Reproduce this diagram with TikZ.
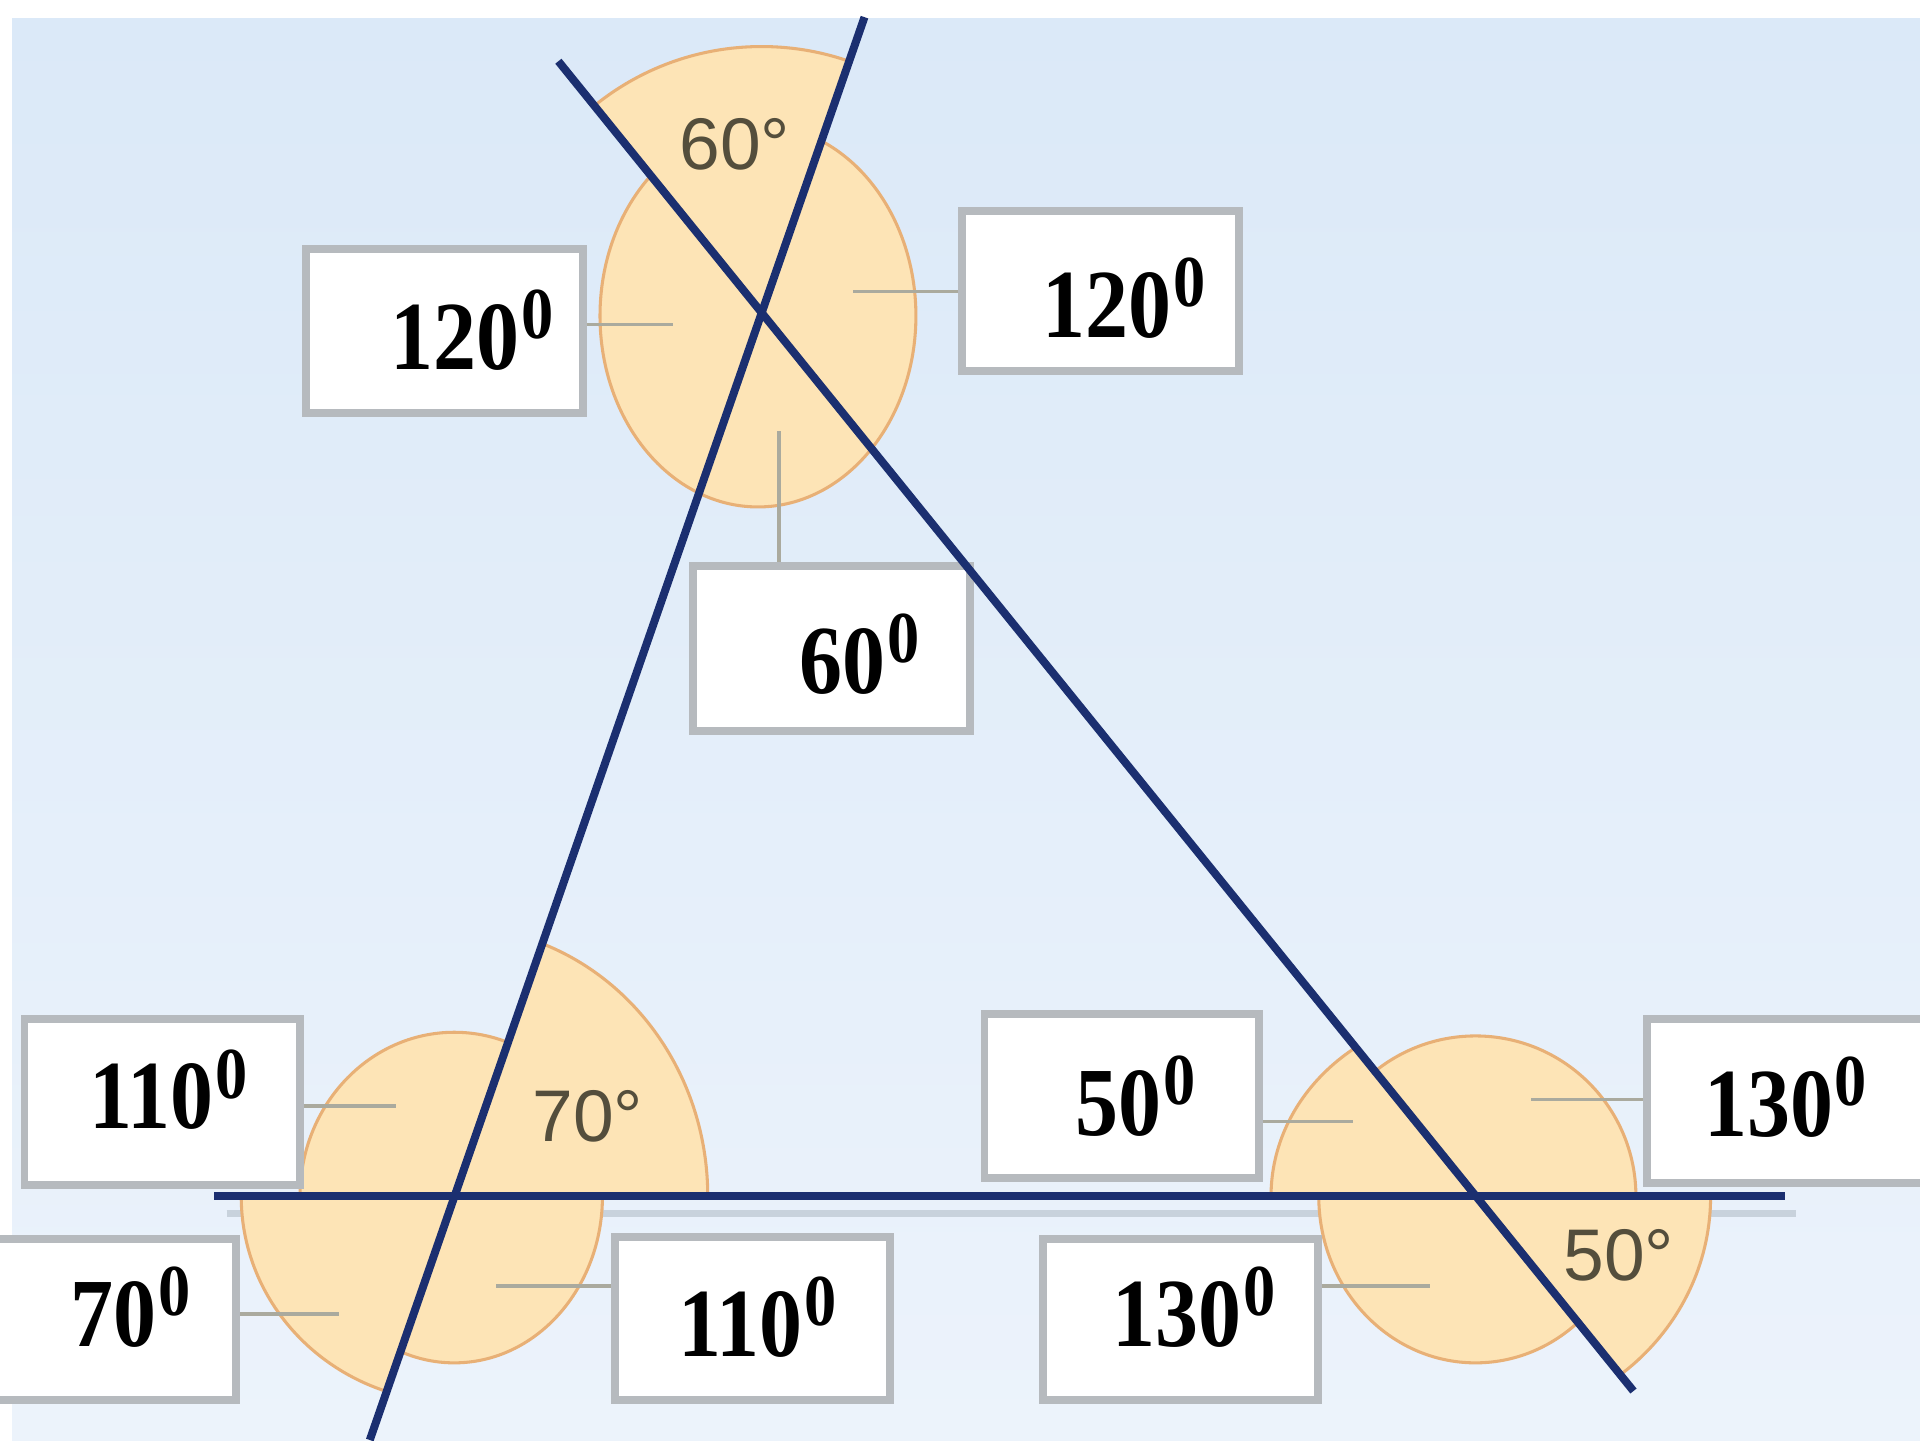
\documentclass[tikz,border=0pt]{standalone}
\usepackage{fontspec}
\setmainfont{Liberation Serif}
\newfontfamily\arialf{Liberation Sans}
\usetikzlibrary{calc}
\definecolor{navy}{RGB}{27,47,112}
\definecolor{peach}{RGB}{253,228,182}
\definecolor{peachedge}{RGB}{232,176,118}
\definecolor{boxgrey}{RGB}{182,186,190}
\definecolor{leadgrey}{RGB}{170,170,158}
\definecolor{bgtop}{RGB}{219,233,248}
\definecolor{bgbot}{RGB}{236,243,251}
\definecolor{anglab}{RGB}{84,78,60}
\definecolor{shadowgrey}{RGB}{200,210,220}
\newcommand\deglab[1]{\scalebox{0.88}[1]{\bfseries\fontsize{22.7pt}{26pt}\selectfont #1\kern0.5pt\raisebox{7.2pt}{\fontsize{17pt}{18pt}\selectfont 0}}}
\begin{document}
\begin{tikzpicture}[x=0.1mm,y=-0.1mm,
  piece/.style={fill=peach,draw=peachedge,line width=0.25mm},
  navyline/.style={draw=navy,line width=0.65mm},
  box/.style={draw=boxgrey,fill=white,line width=0.65mm,inner sep=0pt},
  leader/.style={draw=leadgrey,line width=0.3mm},
  lab/.style={inner sep=0pt,anchor=base west},
  ang/.style={font=\arialf\fontsize{17pt}{20pt}\selectfont,text=anglab,inner sep=0pt}]
\useasboundingbox (0,0) rectangle (1568,1176);
\fill[white] (0,0) rectangle (1568,1176);
\shade[top color=bgtop,bottom color=bgbot] (10,15) rectangle (1568,1176);

% key points
\coordinate (P1) at (622,255);
\coordinate (P2) at (371,977);
\coordinate (P3) at (1205,977);
\coordinate (Atop) at (706,14);
\coordinate (Abot) at (302,1176);
\coordinate (Btop) at (456,50);
\coordinate (Bbot) at (1334,1136);
\coordinate (Cl) at (175,977);
\coordinate (Cr) at (1458,977);
\coordinate (Sl) at (185,991);
\coordinate (Sr) at (1467,991);

% faint shadow of the base line
\draw[draw=shadowgrey,line width=0.6mm] (Sl) -- (Sr);

% top group
\filldraw[piece] (619,258) ellipse [x radius=12.9mm, y radius=15.6mm];
\begin{scope}
\clip (P1) -- ($(P1)!2.2!(Atop)$) -- ($(P1)!2.2!(Btop)$) -- cycle;
\filldraw[piece] (P1) circle [radius=21.7mm];
\end{scope}

% bottom-left group
\begin{scope}
\clip (P2) -- (Atop) -- (0,14) -- (0,977) -- cycle;
\filldraw[piece] (P2) ellipse [x radius=12.6mm, y radius=13.4mm];
\end{scope}
\begin{scope}
\clip (P2) -- (1100,977) -- (1100,0) -- (Atop) -- cycle;
\filldraw[piece] (P2) ellipse [x radius=20.7mm, y radius=22mm];
\end{scope}
\begin{scope}
\clip (P2) -- (0,977) -- (0,1400) -- ($(P2)!2!(Abot)$) -- cycle;
\filldraw[piece] (P2) ellipse [x radius=17.4mm, y radius=16.8mm];
\end{scope}
\begin{scope}
\clip (P2) -- ($(P2)!2!(Abot)$) -- (900,1400) -- (900,977) -- cycle;
\filldraw[piece] (P2) ellipse [x radius=12.1mm, y radius=13.6mm];
\end{scope}

% bottom-right group
\begin{scope}
\clip (P3) -- (0,977) -- (0,0) -- (Btop) -- cycle;
\filldraw[piece] (P3) ellipse [x radius=16.7mm, y radius=15mm];
\end{scope}
\begin{scope}
\clip (P3) -- (Btop) -- (1568,0) -- (1568,977) -- cycle;
\filldraw[piece] (P3) circle [radius=13.1mm];
\end{scope}
\begin{scope}
\clip (P3) -- (0,977) -- (0,1440) -- ($(P3)!2!(Bbot)$) -- cycle;
\filldraw[piece] (P3) ellipse [x radius=12.8mm, y radius=13.6mm];
\end{scope}
\begin{scope}
\clip (P3) -- ($(P3)!2!(Bbot)$) -- (1700,1440) -- (1700,977) -- cycle;
\filldraw[piece] (P3) ellipse [x radius=19.2mm, y radius=18.5mm];
\end{scope}

% angle labels inside the sectors
\node[ang] (d60) at (600,118) {60°};
\node[ang] (d70) at (480,912) {70°};
\node[ang] (d50) at (1322,1025) {50°};

% leader end points
\coordinate (e1) at (550,265);
\coordinate (e2) at (697,238);
\coordinate (e3) at (636,352);
\coordinate (e4) at (323,903);
\coordinate (e5) at (277,1073);
\coordinate (e6) at (405,1050);
\coordinate (e7) at (1105,916);
\coordinate (e8) at (1250,898);
\coordinate (e9) at (1168,1050);

% boxes
\node[box,minimum width=22.6mm,minimum height=13.4mm] (b1) at (363,270) {};
\node[box,minimum width=22.6mm,minimum height=13.1mm] (b2) at (899,237.5) {};
\node[box,minimum width=22.6mm,minimum height=13.5mm] (b3) at (679,529.5) {};
\node[box,minimum width=22.5mm,minimum height=13.6mm] (b4) at (132.5,900) {};
\node[box,minimum width=21.3mm,minimum height=13.1mm] (b5) at (86.5,1077.5) {};
\node[box,minimum width=22.5mm,minimum height=13.3mm] (b6) at (614.5,1076.5) {};
\node[box,minimum width=22.4mm,minimum height=13.4mm] (b7) at (916,895) {};
\node[box,minimum width=24.5mm,minimum height=13.4mm] (b8) at (1467.5,899) {};
\node[box,minimum width=22.4mm,minimum height=13.1mm] (b9) at (964,1077.5) {};

% leaders
\draw[leader] (b1.east |- e1) -- (e1);
\draw[leader] (b2.west |- e2) -- (e2);
\draw[leader] (b3.north -| e3) -- (e3);
\draw[leader] (b4.east |- e4) -- (e4);
\draw[leader] (b5.east |- e5) -- (e5);
\draw[leader] (b6.west |- e6) -- (e6);
\draw[leader] (b7.east |- e7) -- (e7);
\draw[leader] (b8.west |- e8) -- (e8);
\draw[leader] (b9.east |- e9) -- (e9);

% labels
\node[lab] (t1) at (318,301.5) {\deglab{120}};
\node[lab] (t2) at (851,276) {\deglab{120}};
\node[lab] (t3) at (652,566) {\deglab{60}};
\node[lab] (t4) at (72,922) {\deglab{110}};
\node[lab] (t5) at (57,1100) {\deglab{70}};
\node[lab] (t6) at (553,1108) {\deglab{110}};
\node[lab] (t7) at (878,927) {\deglab{50}};
\node[lab] (t8) at (1391,928) {\deglab{130}};
\node[lab] (t9) at (908,1100) {\deglab{130}};

% the three lines
\draw[navyline] (Atop) -- (Abot);
\draw[navyline] (Btop) -- (Bbot);
\draw[navyline] (Cl) -- (Cr);
\end{tikzpicture}
\end{document}
